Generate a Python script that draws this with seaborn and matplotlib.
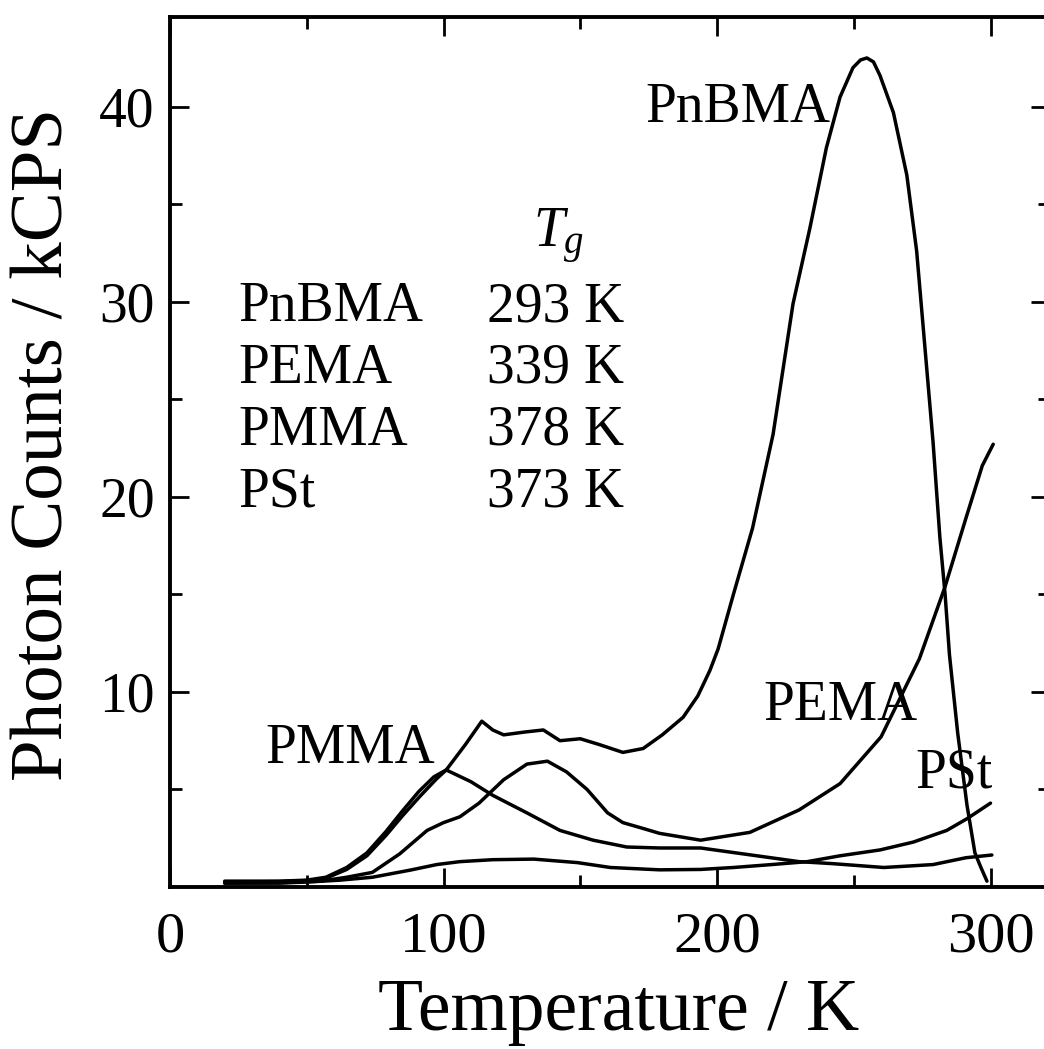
import numpy as np
import pandas as pd
import matplotlib
matplotlib.use("Agg")
import matplotlib.pyplot as plt
from matplotlib.ticker import FixedLocator
import seaborn as sns

# ---------------- data ----------------
pnbma_T = [20, 40, 50, 57, 64.6, 72, 79, 85, 91, 96.5, 101, 108, 114, 118, 122, 130,
           136.5, 142.6, 150, 157, 165.6, 173, 180, 187.6, 193, 197.4, 200.4, 206, 213,
           220.5, 227.8, 234, 240, 245, 249.7, 252.5, 254.8, 257.2, 259.6, 264.5, 269.4, 273, 276, 279,
           281.5, 283.4, 285, 288, 291.4, 294.3, 296.5, 298.7]
pnbma_C = [0.3, 0.3, 0.35, 0.5, 1.0, 1.75, 2.85, 3.9, 4.9, 5.65, 6.0, 7.3, 8.5, 8.05, 7.8, 7.95,
           8.05, 7.5, 7.6, 7.3, 6.9, 7.1, 7.8, 8.7, 9.8, 11.1, 12.2, 15.0, 18.4,
           23.2, 29.9, 33.8, 37.9, 40.5, 42.0, 42.4, 42.5, 42.3, 41.6, 39.7, 36.5, 32.6, 27.7, 22.8,
           17.9, 15.0, 11.9, 7.9, 4.2, 1.75, 1.0, 0.3]

pema_T = [20, 40, 55, 64.6, 74, 84, 94, 100, 106, 113, 122, 130.5, 138, 145, 152.5, 160,
          165.6, 173, 179, 194, 212, 230, 245, 260, 274, 283.4, 291, 297, 301]
pema_C = [0.2, 0.22, 0.3, 0.5, 0.75, 1.7, 2.9, 3.3, 3.6, 4.3, 5.5, 6.3, 6.45, 5.9, 5.0, 3.8,
          3.3, 3.0, 2.75, 2.4, 2.8, 3.95, 5.3, 7.7, 11.7, 15.4, 18.9, 21.6, 22.7]

pmma_T = [20, 40, 50, 57, 64.6, 72, 79, 85, 91.4, 97.5, 101, 110, 118, 130.5, 142.6, 154.7,
          167, 179, 194, 212, 230, 242, 261, 279, 291, 300.5]
pmma_C = [0.25, 0.28, 0.33, 0.45, 0.9, 1.6, 2.65, 3.65, 4.65, 5.55, 6.0, 5.4, 4.7, 3.8, 2.9, 2.4,
          2.05, 2.0, 2.0, 1.65, 1.3, 1.2, 1.0, 1.15, 1.5, 1.64]

pst_T = [20, 40, 51, 62, 74, 88, 97.5, 106, 118, 133, 149, 161, 179, 194, 206, 220, 233, 245,
         259.6, 271.7, 284, 291.4, 300]
pst_C = [0.2, 0.2, 0.26, 0.35, 0.5, 0.87, 1.15, 1.3, 1.4, 1.43, 1.25, 1.0, 0.88, 0.9, 1.0, 1.15,
         1.3, 1.6, 1.9, 2.3, 2.9, 3.5, 4.3]

table_names = ["PnBMA", "PEMA", "PMMA", "PSt"]
table_tg = ["293 K", "339 K", "378 K", "373 K"]

x_major = [0, 100, 200, 300]
x_minor = [50, 150, 250]
y_major = [10, 20, 30, 40]
y_minor = [5, 15, 25, 35]

# ---------------- style ----------------
sns.set_style("ticks")
plt.rcParams["font.family"] = ["Liberation Serif", "DejaVu Serif"]
plt.rcParams["mathtext.fontset"] = "custom"
plt.rcParams["mathtext.rm"] = "Liberation Serif"
plt.rcParams["mathtext.it"] = "Liberation Serif:italic"
for key in ["text.color", "axes.labelcolor", "xtick.color", "ytick.color", "axes.edgecolor"]:
    plt.rcParams[key] = "black"

df = pd.concat([
    pd.DataFrame({"T": pnbma_T, "C": pnbma_C, "polymer": "PnBMA"}),
    pd.DataFrame({"T": pema_T, "C": pema_C, "polymer": "PEMA"}),
    pd.DataFrame({"T": pmma_T, "C": pmma_C, "polymer": "PMMA"}),
    pd.DataFrame({"T": pst_T, "C": pst_C, "polymer": "PSt"}),
], ignore_index=True)

W, H = 1044, 1049
fig = plt.figure(figsize=(W / 100, H / 100), dpi=100)
ax = fig.add_axes([170 / W, 162 / H, 880 / W, 870 / H])

sns.lineplot(data=df, x="T", y="C", units="polymer", estimator=None, sort=False,
             color="black", lw=2.5, ax=ax, legend=False)

ax.set_xlim(0, 880 / 2.735)
ax.set_ylim(0, 44.6)

ax.xaxis.set_major_locator(FixedLocator(x_major))
ax.xaxis.set_minor_locator(FixedLocator(x_minor))
ax.yaxis.set_major_locator(FixedLocator(y_major))
ax.yaxis.set_minor_locator(FixedLocator(y_minor))
ax.set_xticklabels([str(v) for v in x_major])
ax.set_yticklabels([str(v) for v in y_major])

ax.tick_params(which="both", direction="in", top=True, right=True, width=2.0, color="black")
ax.tick_params(which="major", length=14)
ax.tick_params(which="minor", length=8.5)
ax.tick_params(axis="x", which="major", labelsize=42, pad=18)
ax.tick_params(axis="y", which="major", labelsize=40, pad=11)
for s in ax.spines.values():
    s.set_linewidth(2.8)
    s.set_color("black")

ax.set_xlabel("Temperature / K", fontsize=53, va="baseline")
ax.xaxis.set_label_coords(0.513 * 874 / 880, (887 - 1030) / 870)
ax.set_ylabel("Photon Counts / kCPS", fontsize=54, va="baseline")
ax.yaxis.set_label_coords((63 - 170) / 880, 0.509)

# curve labels
fs = 40
ax.text(241.3, 39.2, "PnBMA", fontsize=fs, ha="right", va="baseline")
ax.text(216.8, 8.56, "PEMA", fontsize=fs, ha="left", va="baseline")
ax.text(272.4, 5.1, "PSt", fontsize=fs, ha="left", va="baseline")
ax.text(34.7, 6.36, "PMMA", fontsize=fs, ha="left", va="baseline")

# Tg table
ax.text(132.7, 32.8, "$T_g$", fontsize=fs, ha="left", va="baseline")
row_y = [29.0, 25.85, 22.67, 19.5]
for name, tg, yy in zip(table_names, table_tg, row_y):
    ax.text(24.9, yy, name, fontsize=fs, ha="left", va="baseline")
    ax.text(115.9, yy, tg, fontsize=fs, ha="left", va="baseline")

fig.savefig("out.png", dpi=100)
